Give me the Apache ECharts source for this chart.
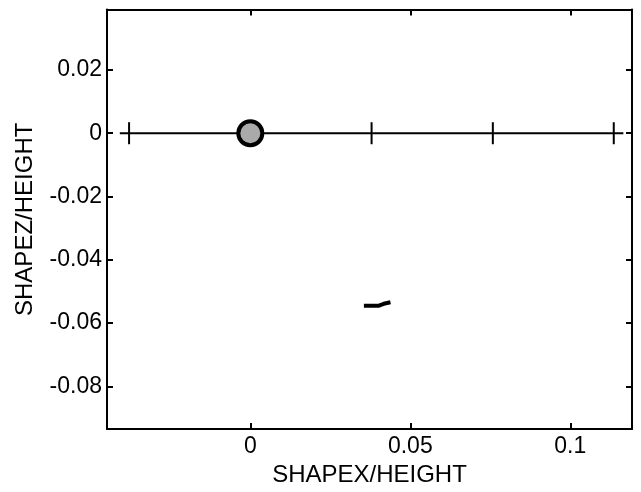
<!DOCTYPE html>
<html><head><meta charset="utf-8">
<script src="https://cdn.jsdelivr.net/npm/echarts@6/dist/echarts.min.js"></script>
<style>html,body{margin:0;padding:0;background:#fff}#c{width:641px;height:492px}</style>
</head><body><div id="c"></div>
<script>
const xTicks = [0, 0.05, 0.1];
const xTickLabels = ['0', '0.05', '0.1'];
const yTicks = [0.02, 0, -0.02, -0.04, -0.06, -0.08];
const yTickLabels = ['0.02', '0', '-0.02', '-0.04', '-0.06', '-0.08'];
const xRange = [-0.0448, 0.1193];
const yRange = [-0.0935, 0.0391];
const groundLine = [[-0.0408, 0], [0.1166, 0]];
const groundTickX = [-0.0379, 0, 0.0379, 0.0758, 0.1136];
const bodyPoint = [[0, 0]];
const trace = [[0.0355, -0.0545], [0.0402, -0.0545], [0.0417, -0.0539], [0.0438, -0.0534]];

const FONT = 'Liberation Sans, Arial, sans-serif';
const labelMap = (ticks, labels) => v => { const i = ticks.findIndex(t => Math.abs(t - v) < 1e-9); return i >= 0 ? labels[i] : ''; };

const chart = echarts.init(document.getElementById('c'), null, {renderer: 'canvas'});
const axisLine = {show: true, onZero: false, lineStyle: {color: '#000', width: 2}};
const tickStyle = {show: true, inside: true, length: 6, lineStyle: {color: '#000', width: 2}};
chart.setOption({
  animation: false,
  backgroundColor: '#fff',
  grid: {left: 107, right: 9, top: 9.5, bottom: 60, containLabel: false},
  xAxis: [{
    type: 'value', min: xRange[0], max: xRange[1], position: 'bottom',
    axisLine: axisLine, splitLine: {show: false},
    axisTick: Object.assign({}, tickStyle, {customValues: xTicks}),
    axisLabel: {customValues: xTicks, formatter: labelMap(xTicks, xTickLabels), color: '#000', fontSize: 23, fontFamily: FONT, margin: 6},
    name: 'SHAPEX/HEIGHT', nameLocation: 'middle', nameGap: 33,
    nameTextStyle: {color: '#000', fontSize: 24, fontFamily: FONT}
  }, {
    type: 'value', min: xRange[0], max: xRange[1], position: 'top',
    axisLine: axisLine, splitLine: {show: false},
    axisTick: Object.assign({}, tickStyle, {customValues: xTicks}),
    axisLabel: {show: false}
  }],
  yAxis: [{
    type: 'value', min: yRange[0], max: yRange[1], position: 'left',
    axisLine: axisLine, splitLine: {show: false},
    axisTick: Object.assign({}, tickStyle, {customValues: yTicks}),
    axisLabel: {customValues: yTicks, formatter: labelMap(yTicks, yTickLabels), color: '#000', fontSize: 23, fontFamily: FONT, margin: 5},
    name: 'SHAPEZ/HEIGHT', nameLocation: 'middle', nameGap: 70, nameRotate: 90,
    nameTextStyle: {color: '#000', fontSize: 24, fontFamily: FONT}
  }, {
    type: 'value', min: yRange[0], max: yRange[1], position: 'right',
    axisLine: axisLine, splitLine: {show: false},
    axisTick: Object.assign({}, tickStyle, {customValues: yTicks}),
    axisLabel: {show: false}
  }],
  series: [
    {type: 'line', data: groundLine, symbol: 'none', lineStyle: {color: '#000', width: 2}, z: 2},
    {type: 'scatter', data: groundTickX.map(x => [x, 0]), symbol: 'rect', symbolSize: [2, 22], itemStyle: {color: '#000', opacity: 1}, z: 3},
    {type: 'scatter', data: bodyPoint, symbol: 'circle', symbolSize: 24, itemStyle: {color: '#aaaaaa', borderColor: '#000', borderWidth: 4, opacity: 1}, z: 4},
    {type: 'line', data: trace, symbol: 'none', lineStyle: {color: '#000', width: 4}, z: 3}
  ]
});
</script></body></html>
